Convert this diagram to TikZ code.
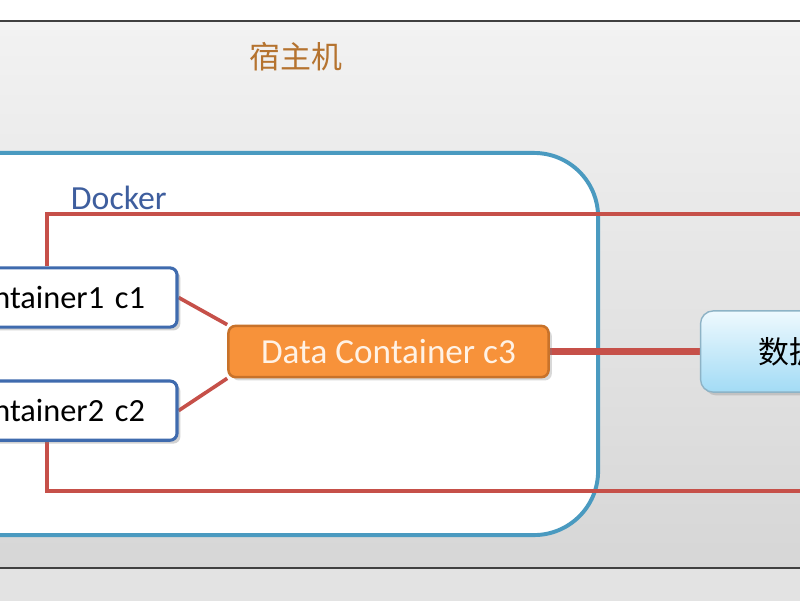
\documentclass[tikz,border=0pt]{standalone}
\usepackage{fontspec}
\setmainfont{Carlito}
\newfontfamily\cjk{Noto Sans CJK SC}
\usetikzlibrary{positioning, shadows}
\definecolor{linkred}{HTML}{C65049}
\definecolor{dockerblue}{HTML}{4A9AC0}
\definecolor{boxblue}{HTML}{3F6BAE}
\definecolor{dataorange}{HTML}{F7923A}
\definecolor{dataedge}{HTML}{C8722A}
\definecolor{hostbrown}{HTML}{B5732F}
\definecolor{labelblue}{HTML}{3E5E9E}
\definecolor{voltop}{HTML}{EEF9FE}
\definecolor{volbottom}{HTML}{A2DBF5}
\definecolor{voledge}{HTML}{8DB3C6}
\pgfdeclarelayer{back}
\pgfdeclarelayer{mid}
\pgfsetlayers{back,mid,main}
\tikzset{
    container/.style = {rectangle, rounded corners=5pt, draw=boxblue, line width=2.2pt, fill=white, drop shadow={opacity=0.35}, minimum height=1.48cm, text width=5.4cm, align=right, inner xsep=0.8cm, font=\fontsize{23}{27}\selectfont},
    datacont/.style = {rectangle, rounded corners=5pt, draw=dataedge, line width=1.8pt, fill=dataorange, drop shadow={opacity=0.3}, minimum width=8cm, minimum height=1.28cm, text=orange!10, font=\fontsize{25}{29}\selectfont},
    volume/.style = {rectangle, rounded corners=9pt, draw=voledge, line width=1pt, top color=voltop, bottom color=volbottom, drop shadow={opacity=0.3}, minimum height=2.03cm, text width=3.5cm, align=left, inner xsep=1.45cm, font=\cjk\fontsize{22}{26}\selectfont},
    dockerbox/.style = {rectangle, rounded corners=1.6cm, draw=dockerblue, line width=2.8pt, fill=white, minimum width=18.2cm, minimum height=9.55cm},
    link/.style = {draw=linkred, line width=2.6pt},
    biglink/.style = {draw=linkred, line width=5pt}
}
\begin{document}
\begin{tikzpicture}[x=0.025cm, y=-0.025cm]
    \useasboundingbox (0,0) rectangle (800,600);
    \clip (0,0) rectangle (800,600);

    % Hintergrund
    \begin{pgfonlayer}{back}
        \fill[white] (-10,-10) rectangle (810,21);
        \fill[top color=gray!10, bottom color=gray!32] (-10,21) rectangle (810,568);
        \fill[gray!22] (-10,568) rectangle (810,610);
        \draw[line width=1.5pt, black!75] (-10,21) -- (810,21);
        \draw[line width=1.5pt, black!75] (-10,568) -- (810,568);
        \node[anchor=west, text=hostbrown, font=\cjk\fontsize{22}{26}\selectfont] (host) at (245,57) {宿主机};
        \node (docker) [dockerbox] at (234,344) {};
        \node[anchor=west, text=labelblue, font=\fontsize{24}{28}\selectfont] (dockerlbl) at (66,198) {Docker};
    \end{pgfonlayer}

    % Knoten
    \node (c1) [container] at (37,297.5) {Container1 c1};
    \node (c2) [container, below=1.27cm of c1] {Container2 c2};
    \node (c3) [datacont] at (388.5,351.5) {Data Container c3};
    \node (vol) [volume, right=3.75cm of c3] {数据卷};
    \coordinate (hostR1) at (820,214);
    \coordinate (hostR2) at (820,491);

    % Linien
    \begin{pgfonlayer}{mid}
        \draw [link] ([xshift=0.25cm]c1.north) |- (hostR1);
        \draw [link] ([xshift=0.25cm]c2.south) |- (hostR2);
        \draw [link] (c1.east) -- (c3.north west);
        \draw [link] (c2.east) -- (c3.south west);
        \draw [biglink] (c3) -- (vol);
    \end{pgfonlayer}
\end{tikzpicture}
\end{document}
